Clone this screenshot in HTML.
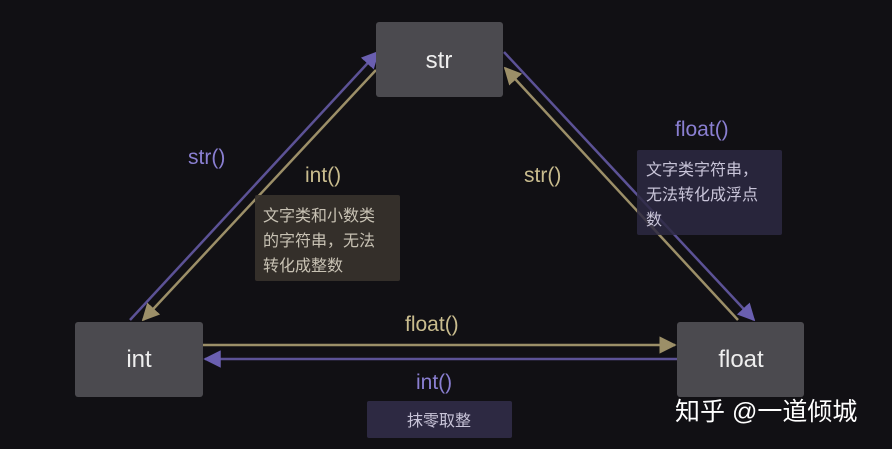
<!DOCTYPE html>
<html><head><meta charset="utf-8"><style>
html,body{margin:0;padding:0;background:#111014;}
svg{display:block}
text{font-family:"Liberation Sans","Noto Sans CJK SC",sans-serif;}
</style></head><body>
<svg width="892" height="449" viewBox="0 0 892 449" xmlns="http://www.w3.org/2000/svg">
<defs>
<marker id="ap" viewBox="0 0 10 10" refX="9" refY="5" markerWidth="7" markerHeight="7" orient="auto"><path d="M0,0L10,5L0,10z" fill="#6a5fb0"/></marker>
<marker id="ag" viewBox="0 0 10 10" refX="9" refY="5" markerWidth="7" markerHeight="7" orient="auto"><path d="M0,0L10,5L0,10z" fill="#9c8f68"/></marker>
</defs>
<rect width="892" height="449" fill="#111014"/>
<line x1="130" y1="320" x2="378" y2="52" stroke="#5c5296" stroke-width="2.5" marker-end="url(#ap)"/>
<line x1="376" y1="70" x2="143" y2="320" stroke="#9c8f68" stroke-width="2.5" marker-end="url(#ag)"/>
<line x1="504" y1="52" x2="754" y2="320" stroke="#5c5296" stroke-width="2.5" marker-end="url(#ap)"/>
<line x1="738" y1="320" x2="505" y2="68" stroke="#9c8f68" stroke-width="2.5" marker-end="url(#ag)"/>
<line x1="203" y1="345" x2="675" y2="345" stroke="#9c8f68" stroke-width="2.5" marker-end="url(#ag)"/>
<line x1="677" y1="359" x2="205" y2="359" stroke="#5c5296" stroke-width="2.5" marker-end="url(#ap)"/>
<rect x="376" y="22" width="127" height="75" rx="3" fill="#4b4a4f"/>
<text x="439" y="68" fill="#eeeeee" font-size="24" text-anchor="middle">str</text>
<rect x="75" y="322" width="128" height="75" rx="3" fill="#4b4a4f"/>
<text x="139" y="367" fill="#eeeeee" font-size="24" text-anchor="middle">int</text>
<rect x="677" y="322" width="127" height="75" rx="3" fill="#4b4a4f"/>
<text x="741" y="367" fill="#eeeeee" font-size="24" text-anchor="middle">float</text>
<text x="188" y="164" fill="#8a7fd2" font-size="21">str()</text>
<text x="305" y="182" fill="#c9bc8e" font-size="21">int()</text>
<rect x="255" y="195" width="145" height="86" rx="2" fill="#37322c" fill-opacity="0.92"/>
<text fill="#c8c2b4" font-size="16"><tspan x="263" y="221">文字类和小数类</tspan><tspan x="263" y="246">的字符串，无法</tspan><tspan x="263" y="271">转化成整数</tspan></text>
<text x="675" y="136" fill="#8a7fd2" font-size="21">float()</text>
<rect x="637" y="150" width="145" height="85" rx="2" fill="#2d2942" fill-opacity="0.85"/>
<text fill="#c8c4d8" font-size="16"><tspan x="646" y="175">文字类字符串，</tspan><tspan x="646" y="200">无法转化成浮点</tspan><tspan x="646" y="225">数</tspan></text>
<text x="524" y="182" fill="#c9bc8e" font-size="21">str()</text>
<text x="405" y="331" fill="#c9bc8e" font-size="21">float()</text>
<text x="416" y="389" fill="#8a7fd2" font-size="21">int()</text>
<rect x="367" y="401" width="145" height="37" rx="2" fill="#2d2942"/>
<text x="439" y="426" fill="#c8c4d8" font-size="16" text-anchor="middle">抹零取整</text>
<text x="675" y="420" fill="#ffffff" font-size="25">知乎 @一道倾城</text>
</svg>
</body></html>
